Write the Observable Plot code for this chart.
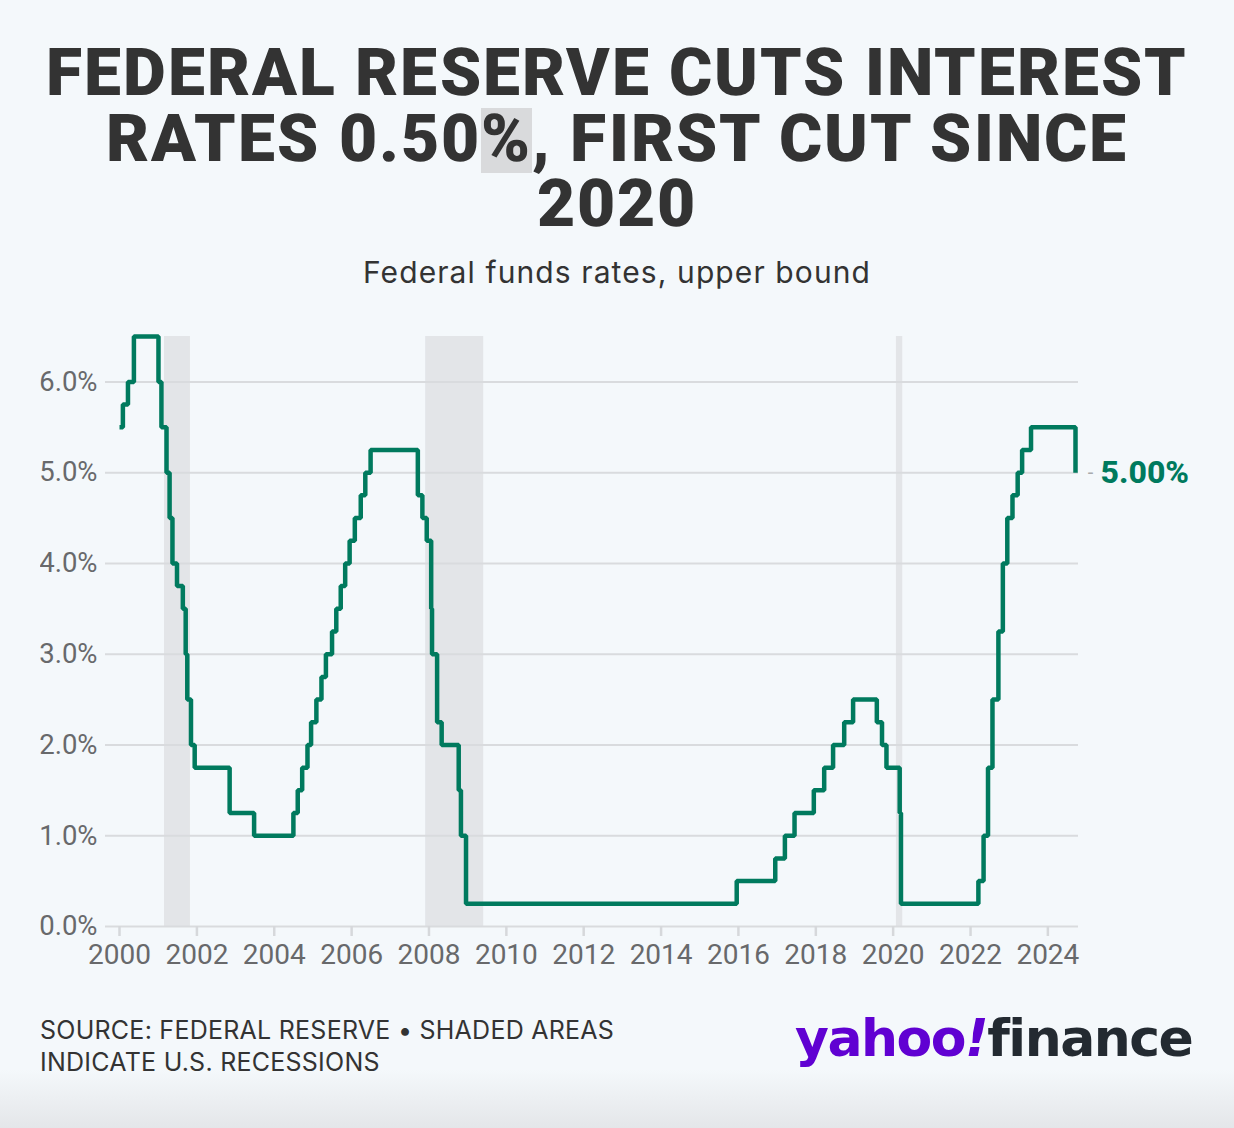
<!DOCTYPE html>
<html>
<head>
<meta charset="utf-8">
<script src="https://cdn.jsdelivr.net/npm/d3@7"></script>
<script src="https://cdn.jsdelivr.net/npm/@observablehq/plot@0.6"></script>
<style>
  @font-face {
    font-family: "TitleHeavy";
    src: local("Roboto Black"), local("Roboto-Black"), local("Roboto Bold"), local("Roboto-Bold");
    font-weight: 900;
    ascent-override: 80%;
    descent-override: 18%;
    line-gap-override: 0%;
  }
  html, body { margin: 0; padding: 0; }
  body {
    width: 1234px; height: 1128px; position: relative; overflow: hidden;
    background: linear-gradient(to bottom, #f4f8fb 0px, #f4f8fb 1070px, #e4e6e9 1128px);
    font-family: Roboto, "Noto Sans", sans-serif;
  }
  #title {
    position: absolute; left: 0; top: 42px; width: 1234px; text-align: center;
    font-family: "TitleHeavy", Roboto, sans-serif;
    font-size: 66px; line-height: 65.5px; font-weight: 900; color: #333333; margin: 0;
    letter-spacing: 2.1px;
  }
  #title .hl { background: #d9dadc; }
  #subtitle {
    position: absolute; left: 0; top: 253px; width: 1234px; text-align: center;
    font-family: Inter, Roboto, sans-serif;
    font-size: 30px; line-height: 38px; color: #333333; letter-spacing: 1.1px;
  }
  #chart { position: absolute; left: 40px; top: 320px; }
  #chart svg { overflow: hidden; }
  #source {
    position: absolute; left: 40px; top: 1014px; font-size: 25px; line-height: 32px;
    font-family: Inter, Roboto, sans-serif; color: #333333; letter-spacing: 0.25px;
  }
  #logo {
    position: absolute; left: 795px; top: 1008px; font-size: 52px; line-height: 60px;
    font-family: "DejaVu Sans", sans-serif;
    font-weight: 700; letter-spacing: -1.5px; white-space: nowrap;
  }
  #logo .y { color: #6001d2; }
  #logo .f { color: #232a31; }
</style>
</head>
<body>
<div id="title">FEDERAL RESERVE CUTS INTEREST<br>RATES 0.50<span class="hl">%</span>, FIRST CUT SINCE<br>2020</div>
<div id="subtitle">Federal funds rates, upper bound</div>
<div id="chart"></div>
<div id="source">SOURCE: FEDERAL RESERVE • SHADED AREAS<br>INDICATE U.S. RECESSIONS</div>
<div id="logo"><span class="y">yahoo<i>!</i></span><span class="f">finance</span></div>
<script>
// Fed funds target rate, upper bound (%), at each change date
const changeDates = [
  "2000-01-01","2000-02-02","2000-03-21","2000-05-16",
  "2001-01-03","2001-01-31","2001-03-20","2001-04-18","2001-05-15","2001-06-27",
  "2001-08-21","2001-09-17","2001-10-02","2001-11-06","2001-12-11",
  "2002-11-06","2003-06-25",
  "2004-06-30","2004-08-10","2004-09-21","2004-11-10","2004-12-14",
  "2005-02-02","2005-03-22","2005-05-03","2005-06-30","2005-08-09","2005-09-20","2005-11-01","2005-12-13",
  "2006-01-31","2006-03-28","2006-05-10","2006-06-29",
  "2007-09-18","2007-10-31","2007-12-11",
  "2008-01-22","2008-01-30","2008-03-18","2008-04-30","2008-10-08","2008-10-29","2008-12-16",
  "2015-12-16","2016-12-14",
  "2017-03-15","2017-06-14","2017-12-13",
  "2018-03-21","2018-06-13","2018-09-26","2018-12-19",
  "2019-07-31","2019-09-18","2019-10-30",
  "2020-03-03","2020-03-15",
  "2022-03-16","2022-05-04","2022-06-15","2022-07-27","2022-09-21","2022-11-02","2022-12-14",
  "2023-02-01","2023-03-22","2023-05-03","2023-07-26",
  "2024-09-18"
];
const upperBound = [
  5.50, 5.75, 6.00, 6.50,
  6.00, 5.50, 5.00, 4.50, 4.00, 3.75,
  3.50, 3.00, 2.50, 2.00, 1.75,
  1.25, 1.00,
  1.25, 1.50, 1.75, 2.00, 2.25,
  2.50, 2.75, 3.00, 3.25, 3.50, 3.75, 4.00, 4.25,
  4.50, 4.75, 5.00, 5.25,
  4.75, 4.50, 4.25,
  3.50, 3.00, 2.25, 2.00, 1.50, 1.00, 0.25,
  0.50, 0.75,
  1.00, 1.25, 1.50,
  1.75, 2.00, 2.25, 2.50,
  2.25, 2.00, 1.75,
  1.25, 0.25,
  0.50, 1.00, 1.75, 2.50, 3.25, 4.00, 4.50,
  4.75, 5.00, 5.25, 5.50,
  5.00
];
// U.S. recessions (shaded bands)
const recessionStarts = ["2001-03-01", "2007-12-01", "2020-02-01"];
const recessionEnds   = ["2001-11-01", "2009-06-01", "2020-04-01"];
// axis ticks
const yTicks = [0, 1, 2, 3, 4, 5, 6];
const xTickYears = [2000, 2002, 2004, 2006, 2008, 2010, 2012, 2014, 2016, 2018, 2020, 2022, 2024];
const latestLabel = "5.00%";

const parse = d3.utcParse("%Y-%m-%d");
const rates = changeDates.map((d, i) => ({date: parse(d), rate: upperBound[i]}));
const recessions = recessionStarts.map((s, i) => ({start: parse(s), end: parse(recessionEnds[i])}));
const last = rates[rates.length - 1];
const xTicks = xTickYears.map(y => new Date(Date.UTC(y, 0, 1)));

const GREEN = "#007a5e";
const chart = Plot.plot({
  width: 1194,
  height: 680,
  marginLeft: 65,
  marginRight: 156,
  marginTop: 16,
  marginBottom: 74,
  insetLeft: 14,
  insetRight: 3,
  style: {fontFamily: "Roboto, sans-serif", background: "transparent", overflow: "hidden"},
  x: {type: "utc", domain: [rates[0].date, last.date]},
  y: {domain: [0, 6.5]},
  marks: [
    Plot.rectY(recessions, {x1: "start", x2: "end", y1: 0, y2: 6.5, fill: "#e3e5e8"}),
    Plot.gridY(yTicks, {stroke: "#d9dbde", strokeOpacity: 1, strokeWidth: 2}),
    Plot.axisY(yTicks, {
      tickSize: 0, tickPadding: 8, fontSize: 27.5, fill: "#68696b",
      tickFormat: d => d.toFixed(1) + "%", label: null
    }),
    Plot.axisX(xTicks, {
      tickSize: 10, tickPadding: 8, fontSize: 28, fill: "#68696b",
      stroke: "#d6d8db", strokeWidth: 2.5, tickFormat: d => String(d.getUTCFullYear()), label: null
    }),
    Plot.line(rates, {
      x: "date", y: "rate", curve: "step-after",
      stroke: GREEN, strokeWidth: 4.5, strokeLinejoin: "miter", strokeLinecap: "butt"
    }),
    Plot.text([last], {x: "date", y: "rate", text: () => "-", dx: 15, fill: "#a8aaad", fontSize: 20, textAnchor: "middle"}),
    Plot.text([last], {
      x: "date", y: "rate", text: () => latestLabel, dx: 25, textAnchor: "start",
      fill: GREEN, fontSize: 32, fontWeight: 800
    })
  ]
});
document.getElementById("chart").appendChild(chart);
</script>
</body>
</html>
